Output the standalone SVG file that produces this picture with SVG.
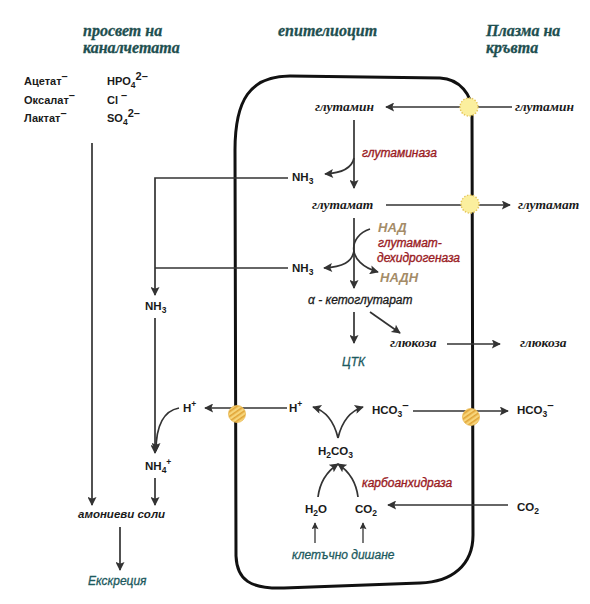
<svg xmlns="http://www.w3.org/2000/svg" width="590" height="604" viewBox="0 0 590 604">
<style>
.hdr{font-family:"Liberation Serif","DejaVu Serif",serif;font-weight:bold;font-style:italic;font-size:16px;fill:#1e4f50;stroke:#1e4f50;stroke-width:0.3}
.met{font-family:"Liberation Serif","DejaVu Serif",serif;font-weight:bold;font-style:italic;font-size:13.5px;fill:#1a1a1a}
.chem{font-family:"Liberation Sans",Arial,sans-serif;font-weight:bold;font-size:11.5px;fill:#1a1a1a}
.ion{font-family:"Liberation Sans",Arial,sans-serif;font-weight:bold;font-size:11px;fill:#1a1a1a}
.enz{font-family:"Liberation Sans",Arial,sans-serif;font-style:italic;font-size:12px;fill:#9a1b1f;stroke:#9a1b1f;stroke-width:0.35}
.nad{font-family:"Liberation Sans",Arial,sans-serif;font-weight:bold;font-style:italic;font-size:13px;fill:#a48c68}
.teal{font-family:"Liberation Sans",Arial,sans-serif;font-style:italic;font-size:12px;fill:#1d5a5e;stroke:#1d5a5e;stroke-width:0.3}
.sal{font-family:"Liberation Sans",Arial,sans-serif;font-weight:bold;font-style:italic;font-size:11.5px;fill:#1a1a1a}
.akg{font-family:"Liberation Sans",Arial,sans-serif;font-style:italic;font-size:12px;fill:#1a1a1a;stroke:#1a1a1a;stroke-width:0.3}
.ln{fill:none;stroke:#333;stroke-width:1.7}
.ar{fill:none;stroke:#333;stroke-width:1.7;marker-end:url(#ah)}
.ars{fill:none;stroke:#333;stroke-width:1.3;marker-end:url(#ahs)}
.tp{fill:#fbef9e;stroke:#e6c65a;stroke-width:1.4;stroke-dasharray:1.5 1.5}
.tph{fill:url(#hatch);stroke:#e8b850;stroke-width:0.8}
</style>
<defs>
<marker id="ah" viewBox="0 0 10 10" refX="9" refY="5" markerWidth="11" markerHeight="9" markerUnits="userSpaceOnUse" orient="auto">
<path d="M0,0 L10,5 L0,10 L2,5 Z" fill="#333"/>
</marker>
<marker id="ahs" viewBox="0 0 10 10" refX="9" refY="5" markerWidth="8" markerHeight="7" markerUnits="userSpaceOnUse" orient="auto">
<path d="M0,0 L10,5 L0,10 L2,5 Z" fill="#333"/>
</marker>
<pattern id="hatch" patternUnits="userSpaceOnUse" width="4" height="4" patternTransform="rotate(-35)">
<rect width="4" height="4" fill="#f7d57a"/>
<rect width="4" height="1.6" fill="#e0a436"/>
</pattern>
</defs>
<rect width="590" height="604" fill="#ffffff"/>

<g id="cell">
<path d="M236,556 L235,150 C235,100 250,76 290,76 L440,78 C460,79 472,95 472,112 L473,535 C473,565 452,582 420,583 L284,588 C250,589 237,580 236,556 Z" fill="none" stroke="#111" stroke-width="3"/>
</g>

<g id="headers">
<text class="hdr" x="83" y="36">просвет на</text>
<text class="hdr" x="83" y="53">каналчетата</text>
<text class="hdr" x="278" y="36">епителиоцит</text>
<text class="hdr" x="486" y="36">Плазма на</text>
<text class="hdr" x="486" y="53">кръвта</text>
</g>

<g id="connectors">
<path class="ar" d="M92,143 V505"/>
<path class="ar" d="M512,107 H386"/>
<path class="ar" d="M354,120 V188"/>
<path class="ar" d="M354,158 C352,168 343,173 325,174"/>
<path class="ar" d="M288,178 H155 V295"/>
<path class="ar" d="M386,205 H510"/>
<path class="ar" d="M354,218 V288"/>
<path class="ar" d="M370,229 C348,236 346,263 378,272"/>
<path class="ar" d="M354,251 C352,262 343,267 324,268"/>
<path class="ln" d="M288,268 H155"/>
<path class="ar" d="M155,318 V453"/>
<path class="ar" d="M354,312 V343"/>
<path class="ar" d="M370,312 L400,333"/>
<path class="ar" d="M447,344 H500"/>
<path class="ar" d="M287,408 H205"/>
<path class="ar" d="M179,408 C163,411 156,425 156,451"/>
<path class="ar" d="M155,478 V505"/>
<path class="ar" d="M120,527 V570"/>
<path class="ar" d="M338,438 C334,421 326,411 313,407"/>
<path class="ar" d="M338,438 C342,421 350,411 363,407"/>
<path class="ar" d="M413,411 H508"/>
<path class="ar" d="M318,497 C320,481 329,470 338,464"/>
<path class="ar" d="M358,497 C356,481 347,470 338,464"/>
<path class="ar" d="M508,505 H388"/>
<path class="ars" d="M315,543 V523"/>
<path class="ars" d="M363,543 V523"/>
</g>

<g id="transporters">
<circle class="tp" cx="469" cy="107" r="9"/>
<circle class="tp" cx="470" cy="204" r="9"/>
<circle class="tph" cx="237" cy="414" r="8.5"/>
<circle class="tph" cx="471" cy="417" r="8.5"/>
</g>

<g id="lumen-anions">
<text class="ion" x="24" y="85">Ацетат<tspan dy="-5">–</tspan></text>
<text class="ion" x="24" y="104">Оксалат<tspan dy="-5">–</tspan></text>
<text class="ion" x="24" y="122">Лактат<tspan dy="-5">–</tspan></text>
<text class="ion" x="107" y="85">HPO<tspan dy="3" font-size="8.5">4</tspan><tspan dy="-8">2–</tspan></text>
<text class="ion" x="107" y="104">Cl <tspan dy="-5">–</tspan></text>
<text class="ion" x="107" y="122">SO<tspan dy="3" font-size="8.5">4</tspan><tspan dy="-8">2–</tspan></text>
</g>

<g id="glutamine-in"><text class="met" x="315" y="111">глутамин</text></g>
<g id="glutamine-out"><text class="met" x="515" y="111">глутамин</text></g>
<g id="glutaminase"><text class="enz" x="362" y="157">глутаминаза</text></g>
<g id="nh3-a"><text class="chem" x="292" y="181">NH<tspan dy="3" font-size="8.5">3</tspan></text></g>
<g id="glutamate-in"><text class="met" x="312" y="209">глутамат</text></g>
<g id="glutamate-out"><text class="met" x="518" y="209">глутамат</text></g>
<g id="nad"><text class="nad" x="378" y="232">НАД</text></g>
<g id="gdh"><text class="enz" x="378" y="247">глутамат-</text><text class="enz" x="377" y="262">дехидрогеназа</text></g>
<g id="nadh"><text class="nad" x="380" y="282">НАДН</text></g>
<g id="nh3-b"><text class="chem" x="292" y="272">NH<tspan dy="3" font-size="8.5">3</tspan></text></g>
<g id="akg"><text class="akg" x="308" y="304">α - кетоглутарат</text></g>
<g id="tca"><text class="teal" x="342" y="366" font-style="normal" font-size="13.5">ЦТК</text></g>
<g id="glucose-in"><text class="met" x="390" y="347">глюкоза</text></g>
<g id="glucose-out"><text class="met" x="520" y="347">глюкоза</text></g>
<g id="nh3-lumen"><text class="chem" x="145" y="310">NH<tspan dy="3" font-size="8.5">3</tspan></text></g>
<g id="h-lumen"><text class="chem" x="183" y="412">H<tspan dy="-5" font-size="8.5">+</tspan></text></g>
<g id="nh4"><text class="chem" x="145" y="470">NH<tspan dy="3" font-size="8.5">4</tspan><tspan dy="-8" font-size="8.5">+</tspan></text></g>
<g id="salts"><text class="sal" x="78" y="518">амониеви соли</text></g>
<g id="excretion"><text class="teal" x="88" y="585">Екскреция</text></g>
<g id="h-cell"><text class="chem" x="289" y="412">H<tspan dy="-5" font-size="8.5">+</tspan></text></g>
<g id="hco3-cell"><text class="chem" x="372" y="414">HCO<tspan dy="3" font-size="8.5">3</tspan><tspan dy="-8">–</tspan></text></g>
<g id="hco3-out"><text class="chem" x="517" y="414">HCO<tspan dy="3" font-size="8.5">3</tspan><tspan dy="-8">–</tspan></text></g>
<g id="h2co3"><text class="chem" x="318" y="455">H<tspan dy="3" font-size="8.5">2</tspan><tspan dy="-3">CO</tspan><tspan dy="3" font-size="8.5">3</tspan></text></g>
<g id="ca"><text class="enz" x="362" y="487">карбоанхидраза</text></g>
<g id="h2o"><text class="chem" x="305" y="513">H<tspan dy="3" font-size="8.5">2</tspan><tspan dy="-3">O</tspan></text></g>
<g id="co2-cell"><text class="chem" x="355" y="513">CO<tspan dy="3" font-size="8.5">2</tspan></text></g>
<g id="co2-out"><text class="chem" x="517" y="511">CO<tspan dy="3" font-size="8.5">2</tspan></text></g>
<g id="respiration"><text class="teal" x="292" y="559">клетъчно дишане</text></g>
</svg>
